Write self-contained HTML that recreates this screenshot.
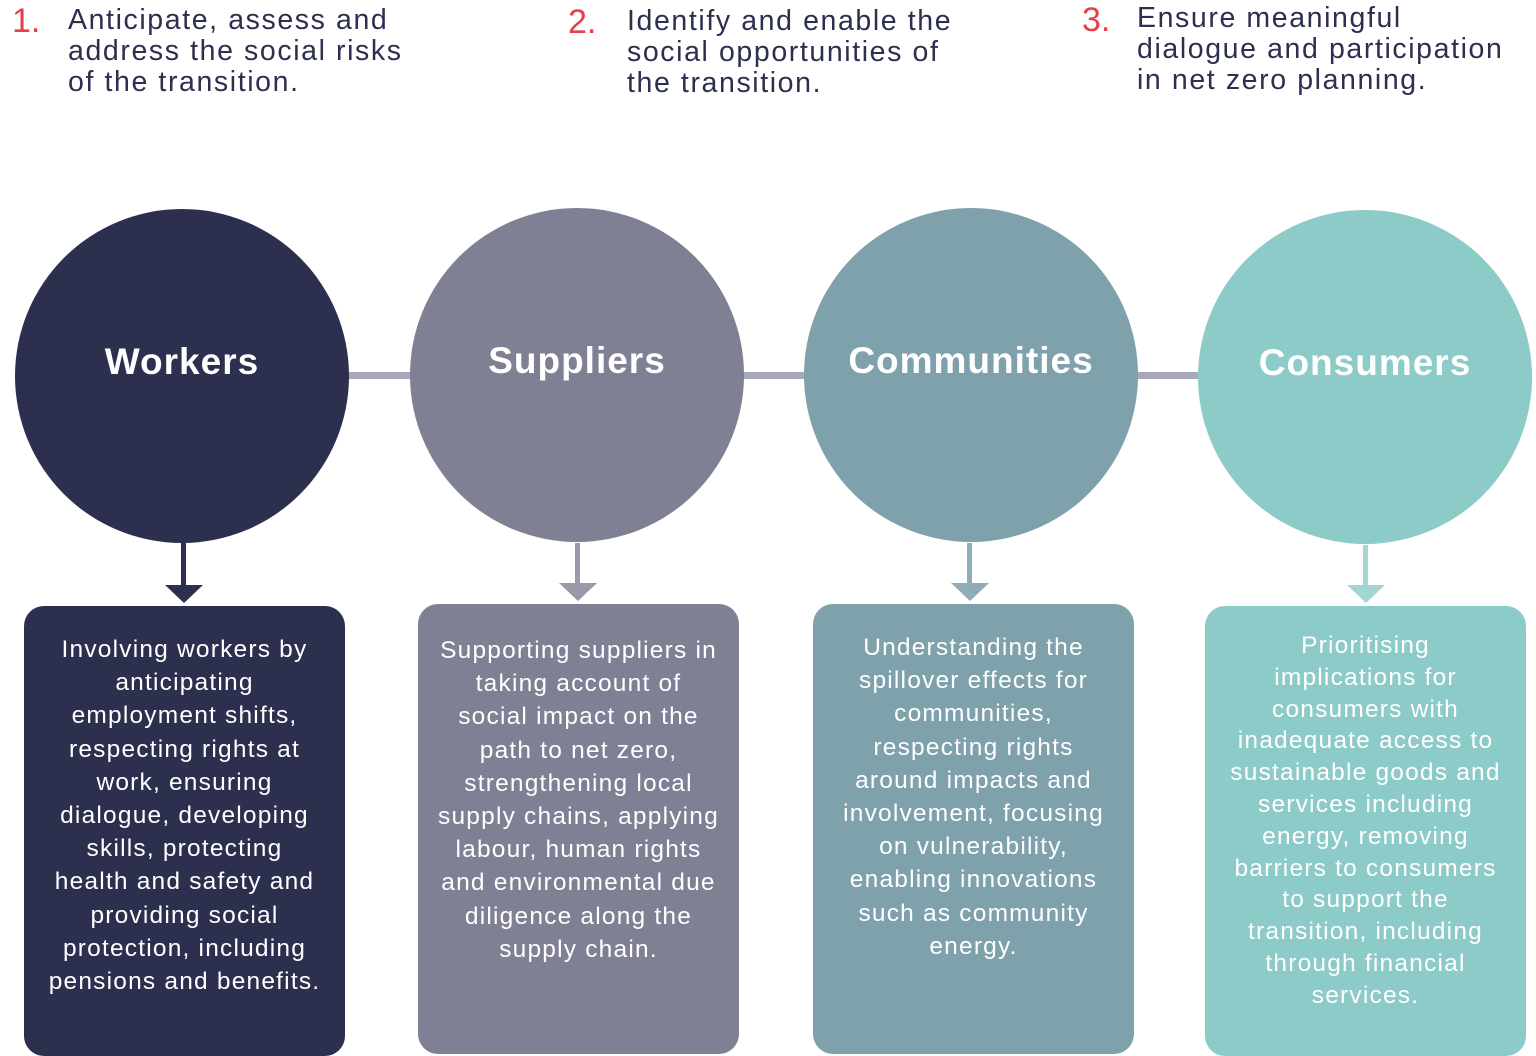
<!DOCTYPE html>
<html><head><style>
body{margin:0;width:1536px;height:1037px;background:#fff;position:relative;overflow:hidden;font-family:"Liberation Sans",sans-serif}
.h{position:absolute;font-size:28.5px;line-height:31px;color:#2d2f4f;letter-spacing:1.6px;white-space:nowrap}
.n{position:absolute;font-size:34px;color:#e5404a;}
.c{position:absolute;width:334px;height:334px;border-radius:50%;color:#fff;font-weight:bold;font-size:37px;text-align:center;box-sizing:border-box;padding-top:132px;letter-spacing:1px}
.b{position:absolute;width:321px;height:450px;border-radius:20px;color:#fff;font-size:24.5px;line-height:33.2px;text-align:center;box-sizing:border-box;padding:26px 0 0;letter-spacing:1.2px;white-space:nowrap}
.l{position:absolute;height:7px;background:#a9a8b8;top:372px}
</style></head><body>
<div class="n" style="left:12px;top:2px">1.</div>
<div class="h" style="left:68px;top:5px">Anticipate, assess and<br>address the social risks<br>of the transition.</div>
<div class="n" style="left:568px;top:3px">2.</div>
<div class="h" style="left:627px;top:6px">Identify and enable the<br>social opportunities of<br>the transition.</div>
<div class="n" style="left:1082px;top:1px">3.</div>
<div class="h" style="left:1137px;top:3px">Ensure meaningful<br>dialogue and participation<br>in net zero planning.</div>

<div class="l" style="left:345px;width:70px"></div>
<div class="l" style="left:740px;width:70px"></div>
<div class="l" style="left:1135px;width:68px"></div>

<div class="c" style="left:15px;top:209px;background:#2d2f4f">Workers</div>
<div class="c" style="left:410px;top:208px;background:#808094">Suppliers</div>
<div class="c" style="left:804px;top:208px;background:#7ea1ac">Communities</div>
<div class="c" style="left:1198px;top:210px;background:#8ccbc7">Consumers</div>

<svg style="position:absolute;left:0;top:0" width="1536" height="1037">
<g><rect x="181" y="543" width="5" height="44" fill="#2d2f4f"/><polygon points="165,585 203,585 184,603" fill="#2d2f4f"/></g>
<g><rect x="575" y="543" width="5" height="42" fill="#9a99aa"/><polygon points="559,583 597,583 578,601" fill="#9a99aa"/></g>
<g><rect x="967" y="543" width="5" height="42" fill="#8fadb7"/><polygon points="951,583 989,583 970,601" fill="#8fadb7"/></g>
<g><rect x="1363" y="545" width="5" height="42" fill="#a3d6d2"/><polygon points="1347,585 1385,585 1366,603" fill="#a3d6d2"/></g>
</svg>

<div class="b" style="left:24px;top:606px;background:#2d2f4f;padding-top:27px">Involving workers by<br>anticipating<br>employment shifts,<br>respecting rights at<br>work, ensuring<br>dialogue, developing<br>skills, protecting<br>health and safety and<br>providing social<br>protection, including<br>pensions and benefits.</div>
<div class="b" style="left:418px;top:604px;background:#808094;padding-top:30px">Supporting suppliers in<br>taking account of<br>social impact on the<br>path to net zero,<br>strengthening local<br>supply chains, applying<br>labour, human rights<br>and environmental due<br>diligence along the<br>supply chain.</div>
<div class="b" style="left:813px;top:604px;background:#7ea1ac;padding-top:27px">Understanding the<br>spillover effects for<br>communities,<br>respecting rights<br>around impacts and<br>involvement, focusing<br>on vulnerability,<br>enabling innovations<br>such as community<br>energy.</div>
<div class="b" style="left:1205px;top:606px;background:#8ccbc7;line-height:31.8px;padding-top:24px">Prioritising<br>implications for<br>consumers with<br>inadequate access to<br>sustainable goods and<br>services including<br>energy, removing<br>barriers to consumers<br>to support the<br>transition, including<br>through financial<br>services.</div>
</body></html>
